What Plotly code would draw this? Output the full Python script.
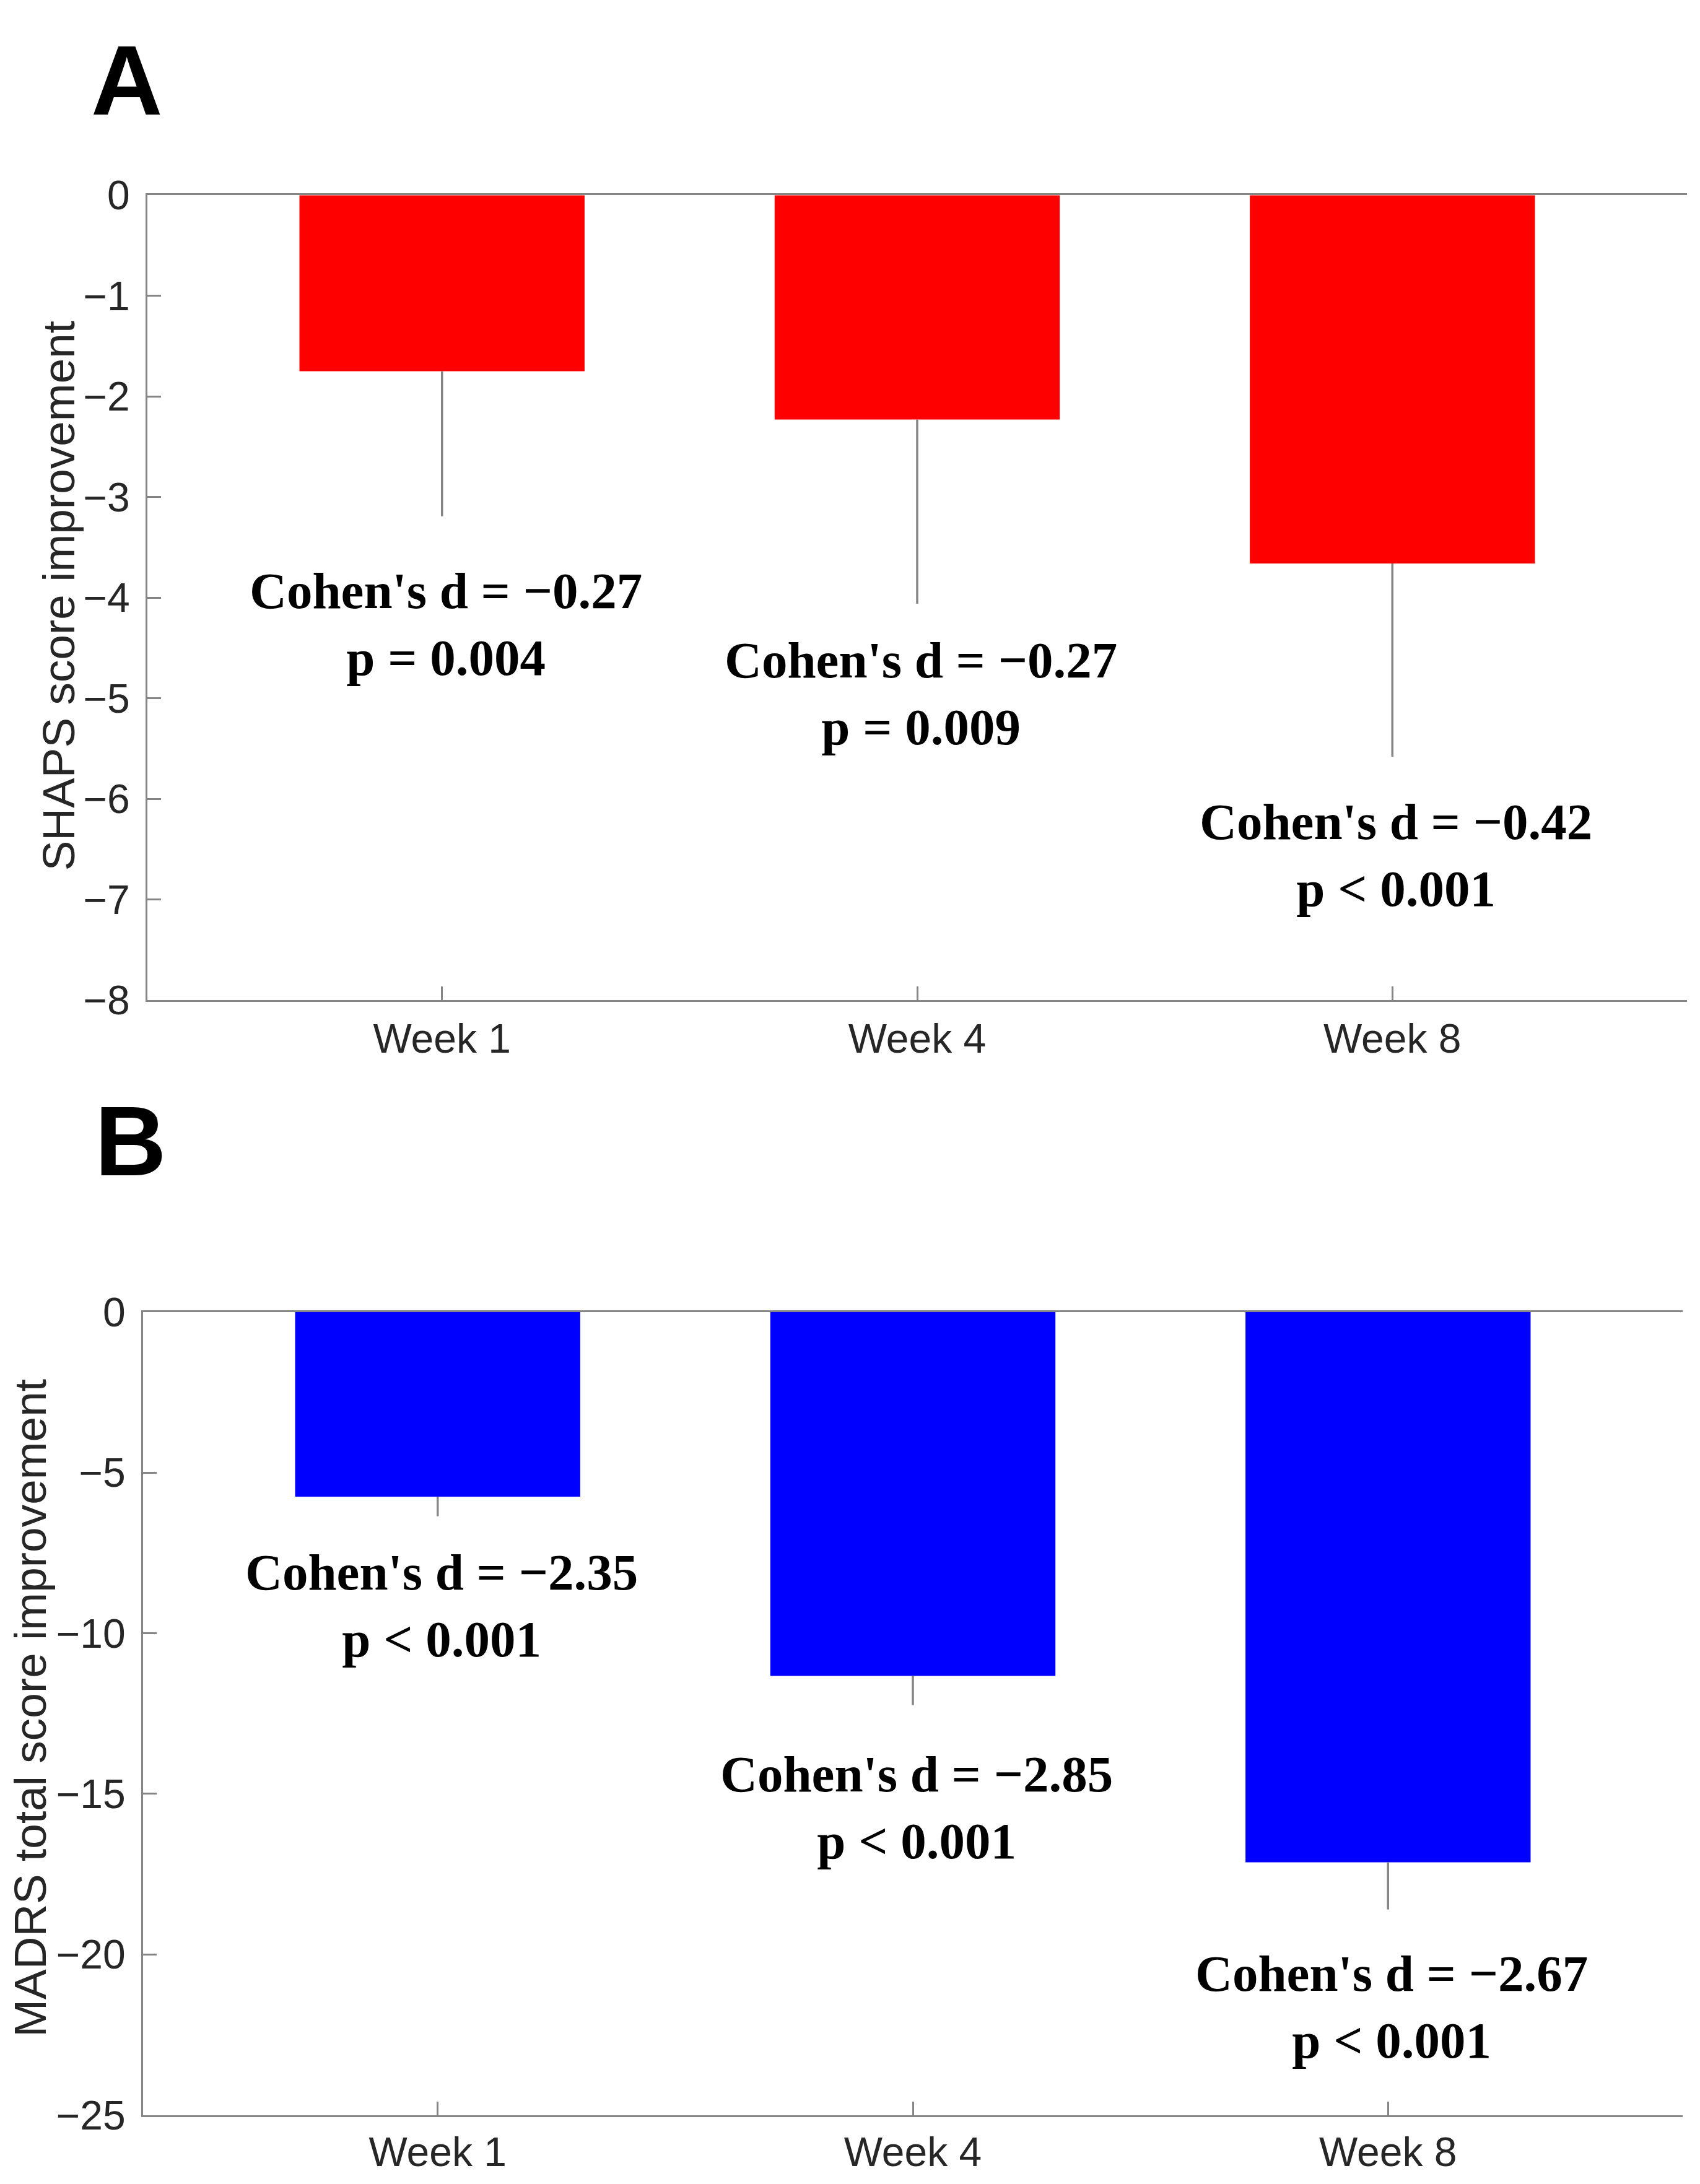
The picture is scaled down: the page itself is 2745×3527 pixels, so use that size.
import plotly.graph_objects as go

# ---------------- data ----------------
weeks = ["Week 1", "Week 4", "Week 8"]

shaps_mean = [-1.75, -2.23, -3.66]
shaps_err = [1.44, 1.83, 1.92]
shaps_d = ["−0.27", "−0.27", "−0.42"]
shaps_p = ["p = 0.004", "p = 0.009", "p < 0.001"]
shaps_ticks = [0, -1, -2, -3, -4, -5, -6, -7, -8]

madrs_mean = [-5.75, -11.33, -17.13]
madrs_err = [0.61, 0.91, 1.47]
madrs_d = ["−2.35", "−2.85", "−2.67"]
madrs_p = ["p < 0.001", "p < 0.001", "p < 0.001"]
madrs_ticks = [0, -5, -10, -15, -20, -25]

# label block centres (data units)
shaps_label_y = [-4.26, -4.95, -6.56]
madrs_label_y = [-9.15, -15.42, -21.63]

W, H = 2745, 3527
AX_COLOR = "#858585"
TXT_COLOR = "#262626"
TICK_FONT = dict(family="Liberation Sans, Arial, sans-serif", size=66, color=TXT_COLOR)
ANN_FONT = dict(family="Liberation Serif, Times New Roman, serif", size=83, color="black")


def py(px):
    """paper fraction from a pixel row measured from the top"""
    return (H - px) / H


def fmt(v):
    return "0" if v == 0 else ("−" + str(abs(v)) if v < 0 else str(v))


fig = go.Figure()

fig.add_trace(go.Bar(
    x=weeks, y=shaps_mean, width=0.6, marker=dict(color="#FF0000", line=dict(width=0)),
    error_y=dict(type="data", symmetric=False, array=[0] * 3, arrayminus=shaps_err,
                 color=AX_COLOR, thickness=3.5, width=0),
    xaxis="x", yaxis="y", showlegend=False,
))
fig.add_trace(go.Bar(
    x=weeks, y=madrs_mean, width=0.6, marker=dict(color="#0000FF", line=dict(width=0)),
    error_y=dict(type="data", symmetric=False, array=[0] * 3, arrayminus=madrs_err,
                 color=AX_COLOR, thickness=3.5, width=0),
    xaxis="x2", yaxis="y2", showlegend=False,
))

xcommon = dict(
    type="category", range=[-0.62, 2.62], showline=True, mirror=True,
    linecolor=AX_COLOR, linewidth=3, ticks="inside", ticklen=22, tickwidth=3,
    tickcolor=AX_COLOR, tickfont=TICK_FONT, showgrid=False, zeroline=False,
    fixedrange=True,
)
ycommon = dict(
    showline=True, mirror=False, linecolor=AX_COLOR, linewidth=3,
    ticks="inside", ticklen=22, tickwidth=3, tickcolor=AX_COLOR,
    tickfont=TICK_FONT, showgrid=False, zeroline=False, ticklabelstandoff=12,
)

fig.update_layout(
    width=W, height=H,
    margin=dict(l=0, r=0, t=0, b=0),
    paper_bgcolor="white", plot_bgcolor="white",
    xaxis=dict(domain=[230 / W, 2716 / W], anchor="y", ticklabelstandoff=2, **xcommon),
    yaxis=dict(domain=[py(1604), py(276)], anchor="x", range=[-8, 0],
               tickvals=shaps_ticks, ticktext=[fmt(t) for t in shaps_ticks], **ycommon),
    xaxis2=dict(domain=[223 / W, 2709 / W], anchor="y2", ticklabelstandoff=0, **xcommon),
    yaxis2=dict(domain=[py(3443), py(2118)], anchor="x2", range=[-25, 0],
                tickvals=madrs_ticks, ticktext=[fmt(t) for t in madrs_ticks], **ycommon),
    bargap=0.4,
)

annotations = []
for i, w in enumerate(weeks):
    annotations.append(dict(
        x=w, y=shaps_label_y[i], xref="x", yref="y", xshift=6,
        text=f"<b>Cohen's d = {shaps_d[i]}<br>{shaps_p[i]}</b>",
        showarrow=False, font=ANN_FONT, xanchor="center", yanchor="middle", align="center",
    ))
    annotations.append(dict(
        x=w, y=madrs_label_y[i], xref="x2", yref="y2", xshift=6,
        text=f"<b>Cohen's d = {madrs_d[i]}<br>{madrs_p[i]}</b>",
        showarrow=False, font=ANN_FONT, xanchor="center", yanchor="middle", align="center",
    ))

# axis titles
annotations.append(dict(
    x=86 / W, y=py(937), xref="paper", yref="paper", text="SHAPS score improvement",
    textangle=-90, showarrow=False, xanchor="center", yanchor="middle",
    font=dict(family="Liberation Sans, Arial, sans-serif", size=73, color=TXT_COLOR),
))
annotations.append(dict(
    x=41 / W, y=py(2772), xref="paper", yref="paper", text="MADRS total score improvement",
    textangle=-90, showarrow=False, xanchor="center", yanchor="middle",
    font=dict(family="Liberation Sans, Arial, sans-serif", size=73, color=TXT_COLOR),
))

# panel letters
for letter, cx, cy in [("A", 197, 86), ("B", 203, 1836)]:
    annotations.append(dict(
        x=cx / W, y=py(cy), xref="paper", yref="paper", text=f"<b>{letter}</b>",
        showarrow=False, xanchor="center", yanchor="middle",
        font=dict(family="Liberation Sans, Arial, sans-serif", size=160, color="black"),
    ))

fig.update_layout(annotations=annotations)

fig.write_html("out.html")
